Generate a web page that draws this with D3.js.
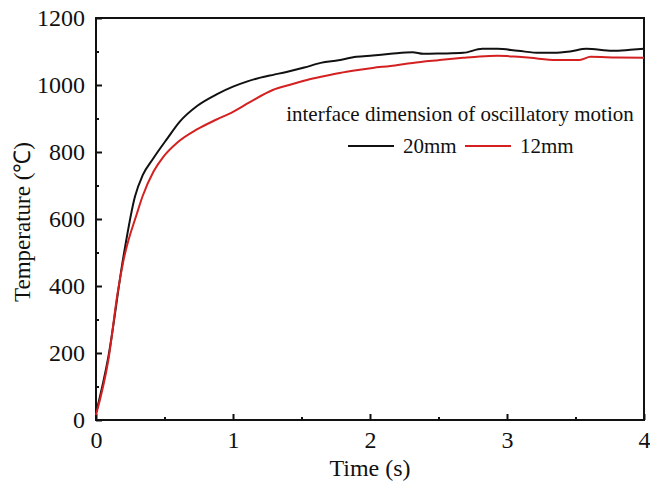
<!DOCTYPE html>
<html>
<head>
<meta charset="utf-8">
<script src="https://cdn.jsdelivr.net/npm/d3@7"></script>
<style>
body { margin: 0; background: #fff; }
text { font-family: "Liberation Serif", "Times New Roman", serif; fill: #111; }
</style>
</head>
<body>
<script>
const w = 650
const h = 482
const margin = {top: 18, right: 6, bottom: 62, left: 96}

// time (s) and temperature (°C)
const time20 = [0, 0.09, 0.2, 0.285, 0.34, 0.42, 0.52, 0.61, 0.74, 0.88, 1.0, 1.1, 1.2, 1.3, 1.39, 1.52, 1.64, 1.77, 1.9, 2.02, 2.15, 2.31, 2.39, 2.52, 2.68, 2.82, 2.93, 3.08, 3.24, 3.34, 3.46, 3.58, 3.77, 3.9, 4]
const temp20 = [20, 188, 487, 668, 730, 782, 840, 890, 938, 972, 995, 1010, 1022, 1031, 1039, 1052, 1066, 1074, 1084, 1088, 1093, 1098, 1093, 1094, 1096, 1108, 1108, 1102, 1096, 1096, 1100, 1108, 1102, 1105, 1108]
const time12 = [0, 0.09, 0.16, 0.2, 0.3, 0.34, 0.42, 0.49, 0.59, 0.74, 0.88, 1.0, 1.12, 1.29, 1.41, 1.54, 1.66, 1.78, 1.9, 2.02, 2.15, 2.31, 2.5, 2.68, 2.8, 2.93, 3.05, 3.17, 3.36, 3.53, 3.61, 3.8, 4]
const temp12 = [15, 179, 385, 475, 618, 668, 742, 785, 827, 868, 897, 920, 948, 985, 1000, 1015, 1026, 1036, 1044, 1051, 1057, 1066, 1074, 1081, 1085, 1087, 1085, 1081, 1075, 1075, 1084, 1082, 1081]

const series = [
	{name: '20mm', color: '#111111', x: time20, y: temp20},
	{name: '12mm', color: '#d42020', x: time12, y: temp12}
]
const xTicks = [0, 1, 2, 3, 4]
const yTicks = [0, 200, 400, 600, 800, 1000, 1200]
const legendTitle = 'interface dimension of oscillatory motion'

const svg = d3.select('body')
	.append('svg')
	.attr('width', w)
	.attr('height', h)

const xScale = d3.scaleLinear()
	.domain([0, 4])
	.range([margin.left, w - margin.right])

const yScale = d3.scaleLinear()
	.domain([0, 1200])
	.range([h - margin.bottom, margin.top])

const x0 = xScale.range()[0], x1 = xScale.range()[1]
const y0 = yScale.range()[0], y1 = yScale.range()[1]

// minor ticks
svg.append('g')
	.attr('transform', `translate(0,${y0})`)
	.call(d3.axisBottom(xScale).tickValues(d3.range(0.5, 4, 1)).tickSize(-3).tickFormat(''))
	.call(g => g.select('.domain').remove())
	.selectAll('line').attr('stroke', '#111').attr('stroke-width', 2)

svg.append('g')
	.attr('transform', `translate(${x0},0)`)
	.call(d3.axisLeft(yScale).tickValues(d3.range(100, 1200, 200)).tickSize(-3).tickFormat(''))
	.call(g => g.select('.domain').remove())
	.selectAll('line').attr('stroke', '#111').attr('stroke-width', 2)

// major ticks
const xAxis = svg.append('g')
	.attr('transform', `translate(0,${y0})`)
	.call(d3.axisBottom(xScale).tickValues(xTicks).tickSize(-6).tickPadding(11).tickFormat(d3.format('d')))
xAxis.select('.domain').remove()
xAxis.selectAll('line').attr('stroke', '#111').attr('stroke-width', 2)
xAxis.selectAll('text').attr('font-size', 24).attr('font-family', '"Liberation Serif", serif')

const yAxis = svg.append('g')
	.attr('transform', `translate(${x0},0)`)
	.call(d3.axisLeft(yScale).tickValues(yTicks).tickSize(-6).tickPadding(11).tickFormat(d3.format('d')))
yAxis.select('.domain').remove()
yAxis.selectAll('line').attr('stroke', '#111').attr('stroke-width', 2)
yAxis.selectAll('text').attr('font-size', 24).attr('font-family', '"Liberation Serif", serif')

// frame
svg.append('rect')
	.attr('x', x0)
	.attr('y', y1)
	.attr('width', x1 - x0)
	.attr('height', y0 - y1)
	.attr('fill', 'none')
	.attr('stroke', '#111')
	.attr('stroke-width', 2)

const line = d3.line()
	.x(d => xScale(d[0]))
	.y(d => yScale(d[1]))
	.curve(d3.curveMonotoneX)

svg.selectAll('.series')
	.data(series)
	.enter()
	.append('path')
	.attr('class', 'series')
	.attr('d', s => line(d3.zip(s.x, s.y)))
	.attr('fill', 'none')
	.attr('stroke', s => s.color)
	.attr('stroke-width', 2)

// axis titles
svg.append('text')
	.attr('x', (x0 + x1) / 2)
	.attr('y', 476)
	.attr('text-anchor', 'middle')
	.attr('font-size', 24)
	.text('Time (s)')

svg.append('text')
	.attr('transform', `translate(30,${(y0 + y1) / 2 + 3}) rotate(-90)`)
	.attr('text-anchor', 'middle')
	.attr('font-size', 23)
	.text('Temperature (℃)')

// legend
svg.append('text')
	.attr('x', 460)
	.attr('y', 121)
	.attr('text-anchor', 'middle')
	.attr('font-size', 21)
	.text(legendTitle)

const legend = svg.selectAll('.legend')
	.data(series)
	.enter()
	.append('g')
	.attr('class', 'legend')
	.attr('transform', (d, i) => `translate(${348 + i * 117},146)`)

legend.append('line')
	.attr('x1', 0)
	.attr('x2', 46)
	.attr('y1', 0)
	.attr('y2', 0)
	.attr('stroke', d => d.color)
	.attr('stroke-width', 2)

legend.append('text')
	.attr('x', 55)
	.attr('y', 7)
	.attr('font-size', 21)
	.text(d => d.name)
</script>
</body>
</html>
